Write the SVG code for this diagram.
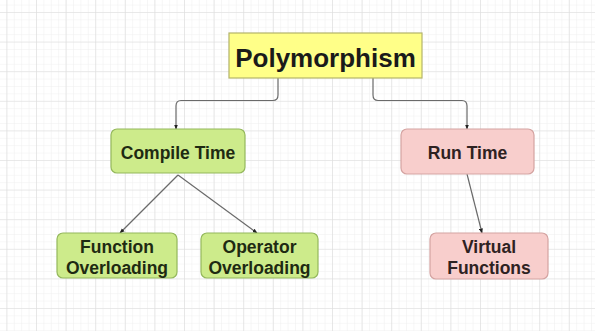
<svg xmlns="http://www.w3.org/2000/svg" width="595" height="331" viewBox="0 0 595 331">
  <defs>
    <pattern id="minor" x="36" y="12" width="7.4" height="7.4" patternUnits="userSpaceOnUse">
      <path d="M0 0H7.4M0 0V7.4" fill="none" stroke="#efefef" stroke-width="1"/>
    </pattern>
    <pattern id="major" x="36" y="12" width="29.6" height="29.6" patternUnits="userSpaceOnUse">
      <path d="M0 0H29.6M0 0V29.6" fill="none" stroke="#dcdcdc" stroke-width="1.2"/>
    </pattern>
    <marker id="arr" viewBox="0 0 10 10" refX="9" refY="5" markerWidth="5" markerHeight="5" orient="auto" markerUnits="userSpaceOnUse">
      <path d="M0 1L10 5L0 9z" fill="#222"/>
    </marker>
  </defs>
  <style>
    .lbl { font-family: "Liberation Sans", Arial, sans-serif; font-weight: bold; text-anchor: middle; }
    .conn { fill: none; stroke: #6a6a6a; stroke-width: 1.2; marker-end: url(#arr); }
    .green { fill: #cdeb8b; stroke: #94b85c; stroke-width: 1.2; }
    .pink { fill: #f8cecc; stroke: #d4a3a1; stroke-width: 1.2; }
  </style>
  <rect width="595" height="331" fill="#ffffff"/>
  <rect width="595" height="331" fill="url(#minor)"/>
  <rect width="595" height="331" fill="url(#major)"/>

  <g id="connectors">
    <path class="conn" d="M278 78V95Q278 100.5 273 100.5H181Q176 100.5 176 106V129"/>
    <path class="conn" d="M373 78V95Q373 100.5 378 100.5H462Q467 100.5 467 106V129"/>
    <path class="conn" d="M178 175L120 233"/>
    <path class="conn" d="M178 175L257 233"/>
    <path class="conn" d="M467 174L482 233"/>
  </g>

  <g id="polymorphism">
    <rect x="229" y="33" width="193" height="45" fill="#ffff88" stroke="#b4b46a" stroke-width="1.2"/>
    <text class="lbl" x="325.5" y="67" font-size="26" fill="#1a1a1a">Polymorphism</text>
  </g>

  <g id="compile-time">
    <rect class="green" x="111" y="129" width="134" height="44" rx="6"/>
    <text class="lbl" x="178" y="158.5" font-size="17.5" fill="#1e2a12">Compile Time</text>
  </g>

  <g id="run-time">
    <rect class="pink" x="401" y="129" width="133" height="45" rx="6"/>
    <text class="lbl" x="467.5" y="159" font-size="17.5" fill="#2e2222">Run Time</text>
  </g>

  <g id="function-overloading">
    <rect class="green" x="57" y="233" width="120" height="45" rx="6"/>
    <text class="lbl" x="117" y="252.5" font-size="17.5" fill="#1e2a12">Function</text>
    <text class="lbl" x="117" y="273.5" font-size="17.5" fill="#1e2a12">Overloading</text>
  </g>

  <g id="operator-overloading">
    <rect class="green" x="201" y="233" width="117" height="45" rx="6"/>
    <text class="lbl" x="259.5" y="252.5" font-size="17.5" fill="#1e2a12">Operator</text>
    <text class="lbl" x="259.5" y="273.5" font-size="17.5" fill="#1e2a12">Overloading</text>
  </g>

  <g id="virtual-functions">
    <rect class="pink" x="430" y="233" width="118" height="46" rx="6"/>
    <text class="lbl" x="489" y="252.5" font-size="17.5" fill="#2e2222">Virtual</text>
    <text class="lbl" x="489" y="273.5" font-size="17.5" fill="#2e2222">Functions</text>
  </g>
</svg>
